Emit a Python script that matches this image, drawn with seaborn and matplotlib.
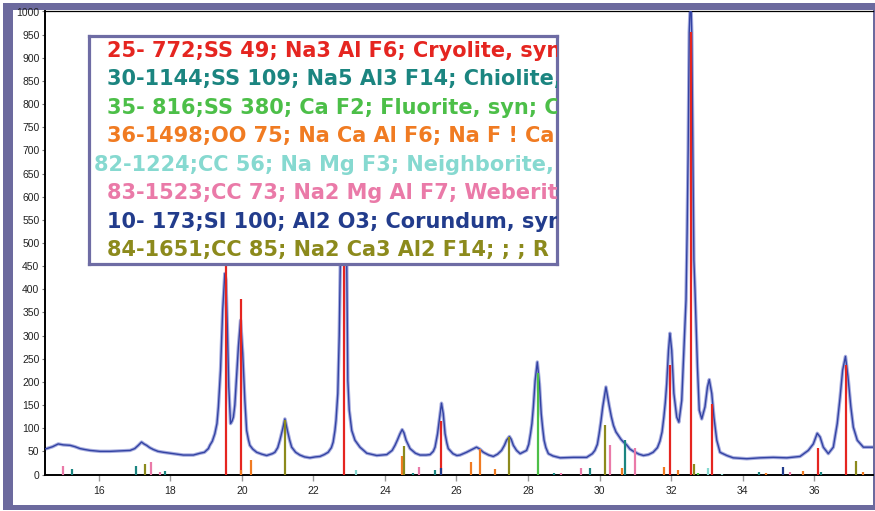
import matplotlib
matplotlib.use("Agg")
import matplotlib.pyplot as plt
from matplotlib.patches import Rectangle
import pandas as pd
import seaborn as sns

# ---- measured diffraction pattern (2-theta in degrees, counts) ----
two_theta = [
    14.46, 14.54, 14.70, 14.86, 15.00, 15.19, 15.33, 15.47, 15.60, 15.75,
    16.03, 16.31, 16.59, 16.87, 17.00, 17.10, 17.19, 17.26, 17.33, 17.42,
    17.52, 17.65, 17.80, 18.08, 18.36, 18.64, 18.83, 18.95, 19.06, 19.10,
    19.17, 19.24, 19.30, 19.34, 19.40, 19.46, 19.52, 19.55, 19.59, 19.63,
    19.68, 19.72, 19.76, 19.80, 19.83, 19.90, 19.96, 20.02, 20.08, 20.13,
    20.18, 20.22, 20.30, 20.41, 20.55, 20.69, 20.85, 20.92, 21.00, 21.06,
    21.14, 21.20, 21.27, 21.33, 21.39, 21.50, 21.62, 21.75, 21.90, 22.05,
    22.18, 22.30, 22.41, 22.50, 22.55, 22.60, 22.63, 22.68, 22.72, 22.75,
    22.80, 22.84, 22.88, 22.93, 22.96, 23.00, 23.07, 23.16, 23.30, 23.49,
    23.77, 24.05, 24.20, 24.28, 24.35, 24.42, 24.48, 24.53, 24.59, 24.70,
    24.85, 24.98, 25.15, 25.26, 25.35, 25.40, 25.47, 25.54, 25.58, 25.63,
    25.68, 25.73, 25.77, 25.90, 26.01, 26.10, 26.28, 26.38, 26.56, 26.65,
    26.75, 26.90, 27.03, 27.15, 27.26, 27.34, 27.40, 27.48, 27.53, 27.59,
    27.68, 27.78, 27.96, 28.02, 28.07, 28.11, 28.15, 28.20, 28.26, 28.32,
    28.37, 28.41, 28.45, 28.50, 28.57, 28.70, 28.90, 29.27, 29.64, 29.80,
    29.87, 29.94, 29.99, 30.04, 30.09, 30.18, 30.27, 30.33, 30.39, 30.46,
    30.53, 30.60, 30.67, 30.76, 30.85, 30.95, 31.10, 31.23, 31.37, 31.50,
    31.62, 31.69, 31.75, 31.80, 31.84, 31.88, 31.93, 31.97, 32.02, 32.08,
    32.16, 32.22, 32.30, 32.36, 32.42, 32.45, 32.48, 32.51, 32.55, 32.58,
    32.61, 32.64, 32.67, 32.70, 32.74, 32.79, 32.86, 32.95, 33.02, 33.07,
    33.14, 33.20, 33.28, 33.37, 33.56, 33.74, 34.12, 34.49, 34.86, 35.24,
    35.61, 35.84, 35.98, 36.09, 36.17, 36.26, 36.40, 36.54, 36.65, 36.73,
    36.80, 36.88, 36.95, 37.03, 37.10, 37.21, 37.38, 37.66,
]
counts = [
    55, 56, 60, 66, 64, 63, 60, 56, 54, 52,
    50, 50, 51, 52, 56, 63, 70, 66, 63, 58,
    54, 50, 48, 45, 42, 42, 46, 48, 56, 63,
    72, 88, 110, 146, 225, 355, 434, 420, 319, 189,
    110, 115, 124, 150, 189, 276, 333, 262, 160, 95,
    75, 63, 55, 48, 44, 41, 45, 48, 58, 74,
    99, 120, 95, 75, 59, 48, 42, 38, 36, 38,
    39, 43, 48, 58, 70, 95, 117, 175, 300, 456,
    650, 700, 620, 456, 203, 139, 95, 74, 59, 46,
    41, 43, 52, 63, 75, 88, 97, 90, 74, 56,
    46, 42, 42, 43, 50, 59, 88, 131, 154, 131,
    88, 68, 56, 45, 41, 42, 48, 52, 59, 55,
    48, 42, 39, 44, 52, 63, 74, 82, 76, 63,
    52, 45, 52, 65, 88, 110, 146, 203, 243, 196,
    131, 100, 74, 58, 45, 40, 36, 37, 37, 45,
    52, 65, 88, 115, 146, 189, 149, 125, 106, 92,
    84, 76, 70, 64, 55, 50, 44, 41, 43, 48,
    58, 72, 92, 124, 155, 196, 268, 305, 268, 175,
    124, 113, 160, 268, 377, 520, 700, 955, 1040, 955,
    700, 463, 400, 330, 232, 139, 120, 146, 189, 205,
    175, 124, 74, 48, 41, 36, 34, 36, 37, 36,
    39, 52, 66, 89, 81, 59, 45, 59, 110, 167,
    225, 255, 211, 146, 102, 74, 59, 59,
]

# ---- reference patterns (peak position, relative intensity) ----
cryolite_pos = [19.55, 19.97, 22.86, 25.58, 31.97, 32.55, 33.14, 36.12, 36.89]
cryolite_int = [600, 380, 720, 115, 236, 955, 153, 57, 237]

chiolite_pos = [15.24, 17.03, 17.86, 24.78, 25.40, 28.72, 29.73, 30.72, 34.47, 36.19]
chiolite_int = [12, 19, 7, 4, 9, 3, 13, 75, 5, 5]

fluorite_pos = [28.27, 32.76]
fluorite_int = [220, 3]

nacaalf6_pos = [19.96, 20.24, 24.47, 26.40, 26.66, 27.08, 30.64, 31.81, 32.19, 34.65, 35.70, 37.38]
nacaalf6_int = [9, 32, 40, 27, 55, 11, 13, 16, 9, 3, 7, 5]

neighborite_pos = [23.18, 33.03, 33.42]
neighborite_int = [9, 14, 2]

weberite_pos = [15.00, 17.45, 17.71, 24.96, 28.92, 29.48, 30.29, 30.98, 35.33]
weberite_int = [19, 27, 5, 16, 3, 13, 63, 57, 5]

corundum_pos = [25.58, 35.12]
corundum_int = [13, 17]

na2ca3_pos = [17.28, 21.20, 24.53, 27.48, 30.16, 32.63, 37.17]
na2ca3_int = [22, 118, 61, 80, 106, 23, 30]

phase_labels = [
    "25- 772;SS 49; Na3 Al F6; Cryolite, syn",
    "30-1144;SS 109; Na5 Al3 F14; Chiolite, syn",
    "35- 816;SS 380; Ca F2; Fluorite, syn; C",
    "36-1498;OO 75; Na Ca Al F6; Na F ! Ca",
    "82-1224;CC 56; Na Mg F3; Neighborite, syn",
    "83-1523;CC 73; Na2 Mg Al F7; Weberite",
    "10- 173;SI 100; Al2 O3; Corundum, syn",
    "84-1651;CC 85; Na2 Ca3 Al2 F14; ; ; R",
]
phase_colors = ["#e52520", "#1b8580", "#4cbf48", "#f07b22",
                "#86d9d0", "#ea7aa8", "#223c8c", "#8c8a1c"]
phase_pos = [cryolite_pos, chiolite_pos, fluorite_pos, nacaalf6_pos,
             neighborite_pos, weberite_pos, corundum_pos, na2ca3_pos]
phase_int = [cryolite_int, chiolite_int, fluorite_int, nacaalf6_int,
             neighborite_int, weberite_int, corundum_int, na2ca3_int]

xticks = [16, 18, 20, 22, 24, 26, 28, 30, 32, 34, 36]
yticks = list(range(0, 1001, 50))

sns.set_style("white")
plt.rcParams["font.family"] = ["Liberation Sans", "DejaVu Sans"]

W, H = 875, 511
fig = plt.figure(figsize=(W / 100, H / 100), dpi=100)
fig.patch.set_facecolor("white")

frame = "#6c6a9e"
# purple frame and white panel behind the plot
fig.patches.append(Rectangle((3 / W, 1 - 510 / H), 1.0, 507 / H,
                             transform=fig.transFigure, facecolor=frame,
                             edgecolor="none", zorder=-3))
fig.patches.append(Rectangle((12.5 / W, 1 - 505 / H), (873 - 12.5) / W, 495 / H,
                             transform=fig.transFigure, facecolor="white",
                             edgecolor="none", zorder=-2))

ax = fig.add_axes([45 / W, 1 - 474.5 / H, (873 - 45) / W, (474.5 - 11.5) / H])
ax.set_facecolor("white")

pattern = pd.DataFrame({"two_theta": two_theta, "counts": counts})
sns.lineplot(data=pattern, x="two_theta", y="counts", ax=ax, sort=False,
             color="#a7addf", lw=2.5, zorder=2)
sns.lineplot(data=pattern, x="two_theta", y="counts", ax=ax, sort=False,
             color="#3343a3", lw=1.0, zorder=3)

for pos, inten, col in zip(phase_pos, phase_int, phase_colors):
    ax.vlines(pos, 0, inten, colors=col, lw=1.6, zorder=4)

ax.set_xlim(14.49, 37.65)
ax.set_ylim(0, 1000)
ax.set_xticks(xticks)
ax.set_yticks(yticks)
ax.set_xlabel("")
ax.set_ylabel("")
ax.tick_params(axis="x", direction="out", length=4, width=1, color="#9a9a9a",
               labelsize=7.5, labelcolor="#222222", pad=4, bottom=True)
ax.tick_params(axis="y", direction="out", length=2.5, width=0.8, color="#777777",
               labelsize=7.5, labelcolor="#222222", pad=1.5, left=True)
for side in ["left", "bottom"]:
    ax.spines[side].set_color("black")
    ax.spines[side].set_linewidth(1.4)
ax.spines["top"].set_color("black")
ax.spines["top"].set_linewidth(0.9)
ax.spines["right"].set_visible(False)

# phase list box drawn over the pattern
bx0, bx1, by0, by1 = 89, 557, 36, 264
box = fig.add_axes([bx0 / W, 1 - by1 / H, (bx1 - bx0) / W, (by1 - by0) / H])
box.set_facecolor("white")
box.set_xticks([])
box.set_yticks([])
box.set_xlim(0, 1)
box.set_ylim(0, 1)
for s in box.spines.values():
    s.set_color("#6e6ca4")
    s.set_linewidth(2.3)

text_left = [107, 107, 107, 107, 94, 107, 107, 107]
for i, (lab, col) in enumerate(zip(phase_labels, phase_colors)):
    base = 57.0 + 28.47 * i
    box.text((text_left[i] - bx0) / (bx1 - bx0), (by1 - base) / (by1 - by0), lab,
             color=col, fontsize=15.0, fontweight="bold", family=["DejaVu Sans"],
             ha="left", va="baseline", clip_on=True)

fig.savefig("out.png", dpi=100)
